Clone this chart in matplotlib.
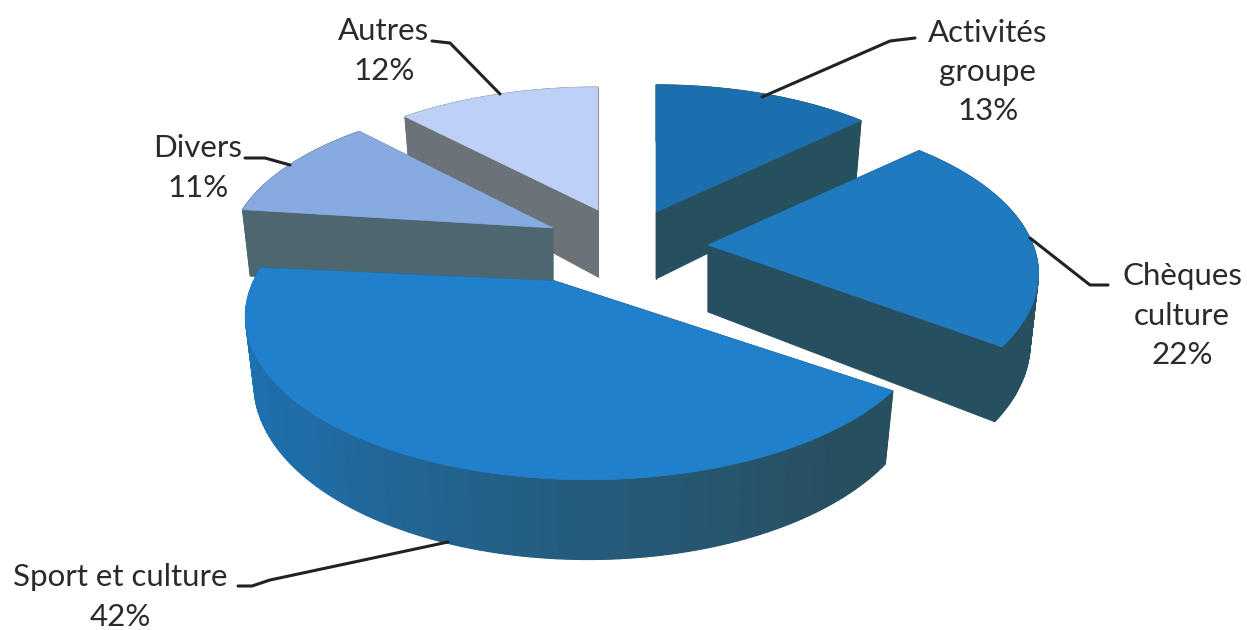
import numpy as np
import matplotlib.pyplot as plt
from matplotlib.colors import to_rgb

# data
categories = ["Activités\ngroupe", "Chèques\nculture", "Sport et culture", "Divers", "Autres"]
values = [13, 22, 42, 11, 12]

# look: arc centre x/y, radii, apex shift from arc centre, wall height
SLICE_GEOM = [
    dict(cx=656, cy=212, rx=316, ry=150, adx=0, ady=0, depth=67),
    dict(cx=708, cy=245, rx=325, ry=155, adx=0, ady=0, depth=67),
    dict(cx=588, cy=287, rx=337, ry=158, adx=-33, ady=-6, depth=65.5),
    dict(cx=553, cy=228, rx=320, ry=150, adx=0, ady=0, depth=68),
    dict(cx=598, cy=210, rx=319, ry=145, adx=0, ady=0, depth=67),
]
TOP_COLORS = ["#1c6fae", "#207ac0", "#2180cb", "#87aae1", "#bdd0f6"]
SIDE_COLORS = ["#27505f", "#26505f", "#26505f", "#4d6670", "#6b7378"]
# wall shading along the arc, only the big slice really shows it
WALL_STOPS = [(100, "#284e5e"), (140, "#284f60"), (185, "#245d80"), (225, "#1f6ca6"), (277, "#1b74b8")]
DRAW_ORDER = [4, 0, 3, 1, 2]

PERSP = 0.18
SHRINK = 0.975

LABEL_POS = [(988, 72), (1182, 316), (120, 597), (198, 168), (384, 51)]
LEADERS = [
    [(762, 97), (890, 41), (915, 38)],
    [(1030, 238), (1090, 285), (1108, 285)],
    [(448, 542), (270, 580), (252, 586), (238, 586)],
    [(290, 165), (265, 158), (245, 158)],
    [(500, 94), (450, 43), (432, 41)],
]


def top_point(g, a):
    s = 1 / (1 + PERSP * np.cos(a))
    return g["cx"] + g["rx"] * np.sin(a) * s, g["cy"] - g["ry"] * np.cos(a) * s, s


def wall_point(g, a):
    x, y, s = top_point(g, a)
    return g["cx"] + (x - g["cx"]) * SHRINK, y + g["depth"] * s


def wall_color(deg):
    stops = [d for d, _ in WALL_STOPS]
    rgb = np.array([to_rgb(c) for _, c in WALL_STOPS])
    return [np.interp(deg % 360, stops, rgb[:, i]) for i in range(3)]


def draw_slice(ax, i, start, end):
    g = SLICE_GEOM[i]
    apex = (g["cx"] + g["adx"], g["cy"] + g["ady"])
    apex_low = (apex[0], apex[1] + g["depth"])
    angles = np.radians(np.linspace(start, end, 120))

    # outer wall, cut in strips so the shade can change
    for a0, a1 in zip(angles[:-1], angles[1:]):
        x0, y0, _ = top_point(g, a0)
        x1, y1, _ = top_point(g, a1)
        xb0, yb0 = wall_point(g, a0)
        xb1, yb1 = wall_point(g, a1)
        color = wall_color(np.degrees(a0)) if i == 2 else SIDE_COLORS[i]
        ax.fill([x0, x1, xb1, xb0], [y0, y1, yb1, yb0], color=color, lw=0.8)

    # the two cut faces
    for a in (angles[0], angles[-1]):
        x, y, _ = top_point(g, a)
        xb, yb = wall_point(g, a)
        ax.fill([apex[0], x, xb, apex_low[0]], [apex[1], y, yb, apex_low[1]],
                color=SIDE_COLORS[i], lw=0.6)

    # top face
    xs = [apex[0]] + [top_point(g, a)[0] for a in angles]
    ys = [apex[1]] + [top_point(g, a)[1] for a in angles]
    ax.fill(xs, ys, color=TOP_COLORS[i], lw=0.5)


fig = plt.figure(figsize=(12.47, 6.30), dpi=100)
ax = fig.add_axes([0, 0, 1, 1])
ax.set_xlim(0, 1247)
ax.set_ylim(630, 0)
ax.axis("off")

shares = np.array(values) / sum(values) * 360
ends = np.cumsum(shares)
starts = ends - shares

for i in DRAW_ORDER:
    draw_slice(ax, i, starts[i], ends[i])

for path in LEADERS:
    xs, ys = zip(*path)
    ax.plot(xs, ys, color="#222222", lw=2.2, solid_capstyle="round", zorder=1)

for name, val, (x, y) in zip(categories, values, LABEL_POS):
    ax.text(x, y, f"{name}\n{val}%", ha="center", va="center", family="Lato",
            fontsize=22.5, color="#2a2a2a", linespacing=1.5)

plt.savefig("out.png", dpi=100)
plt.close()
